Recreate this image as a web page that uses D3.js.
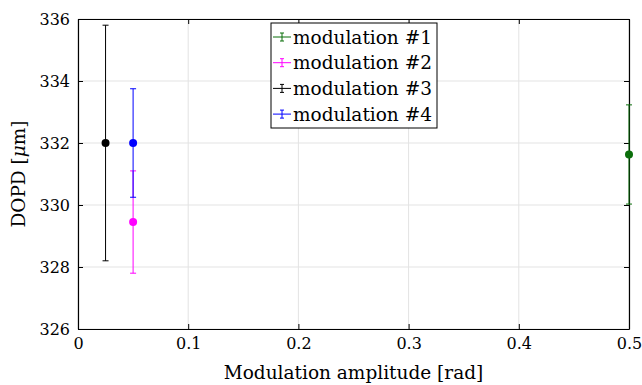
<script src="https://d3js.org/d3.v7.min.js"></script>
<style>
  body { margin: 0; background: #fff; }
  text { font-family: "DejaVu Serif", serif; fill: #000; }
</style>
<svg id="vis"></svg>
<script>
  // Data
  var seriesNames = ['modulation #1', 'modulation #2', 'modulation #3', 'modulation #4'];
  var seriesColors = ['#0b6e0b', '#ff00ff', '#000000', '#0000ff'];
  var xValues = [0.5, 0.05, 0.025, 0.05];
  var yValues = [331.63, 329.45, 332.0, 332.0];
  var yErrors = [1.6, 1.65, 3.8, 1.75];
  var xTicks = [0, 0.1, 0.2, 0.3, 0.4, 0.5];
  var yTicks = [326, 328, 330, 332, 334, 336];

  var width = 642, height = 385;
  var mLeft = 78, mRight = 629, mTop = 19, mBottom = 329;

  var svg = d3.select('#vis')
    .attr('width', width)
    .attr('height', height);

  var x = d3.scaleLinear().domain([0, 0.5]).range([mLeft, mRight]);
  var y = d3.scaleLinear().domain([326, 336]).range([mBottom, mTop]);

  // grid
  svg.append('g').selectAll('line').data(xTicks).enter().append('line')
    .attr('x1', d => x(d)).attr('x2', d => x(d))
    .attr('y1', mTop).attr('y2', mBottom)
    .attr('stroke', '#e3e3e3').attr('stroke-width', 1);
  svg.append('g').selectAll('line').data(yTicks).enter().append('line')
    .attr('x1', mLeft).attr('x2', mRight)
    .attr('y1', d => y(d)).attr('y2', d => y(d))
    .attr('stroke', '#e3e3e3').attr('stroke-width', 1);

  // axes (inward ticks on all four sides)
  var fmt = d3.format('~g');
  var gb = svg.append('g').attr('transform', 'translate(0,' + mBottom + ')')
    .call(d3.axisBottom(x).tickValues(xTicks).tickFormat(fmt).tickSizeInner(-5).tickSizeOuter(0).tickPadding(9));
  var gt = svg.append('g').attr('transform', 'translate(0,' + mTop + ')')
    .call(d3.axisTop(x).tickValues(xTicks).tickFormat('').tickSizeInner(-5).tickSizeOuter(0));
  var gl = svg.append('g').attr('transform', 'translate(' + mLeft + ',0)')
    .call(d3.axisLeft(y).tickValues(yTicks).tickFormat(fmt).tickSizeInner(-5).tickSizeOuter(0).tickPadding(8));
  var gr = svg.append('g').attr('transform', 'translate(' + mRight + ',0)')
    .call(d3.axisRight(y).tickValues(yTicks).tickFormat('').tickSizeInner(-5).tickSizeOuter(0));
  [gb, gt, gl, gr].forEach(function(g) {
    g.select('.domain').attr('stroke', '#000').attr('stroke-width', 1.2);
    g.selectAll('.tick line').attr('stroke', '#000');
    g.selectAll('.tick text').style('font-size', '16px').style('font-family', '"DejaVu Serif", serif').attr('fill', '#000');
  });

  // error bars
  var idx = d3.range(seriesNames.length);
  var bars = svg.append('g').selectAll('g').data(idx).enter().append('g');
  bars.append('line')
    .attr('x1', i => x(xValues[i])).attr('x2', i => x(xValues[i]))
    .attr('y1', i => y(yValues[i] - yErrors[i])).attr('y2', i => y(yValues[i] + yErrors[i]))
    .attr('stroke', i => seriesColors[i]).attr('stroke-width', 1);
  [-1, 1].forEach(function(s) {
    bars.append('line')
      .attr('x1', i => x(xValues[i]) - 3).attr('x2', i => x(xValues[i]) + 3)
      .attr('y1', i => y(yValues[i] + s * yErrors[i])).attr('y2', i => y(yValues[i] + s * yErrors[i]))
      .attr('stroke', i => seriesColors[i]).attr('stroke-width', 1);
  });
  bars.append('circle')
    .attr('cx', i => x(xValues[i])).attr('cy', i => y(yValues[i]))
    .attr('r', 4).attr('fill', i => seriesColors[i]);

  // axis labels
  svg.append('text')
    .attr('x', (mLeft + mRight) / 2).attr('y', 379)
    .attr('text-anchor', 'middle').style('font-size', '18.5px')
    .text('Modulation amplitude [rad]');
  var yl = svg.append('text')
    .attr('transform', 'translate(25,' + ((mTop + mBottom) / 2) + ') rotate(-90)')
    .attr('text-anchor', 'middle').style('font-size', '18.5px');
  yl.append('tspan').text('DOPD [');
  yl.append('tspan').style('font-style', 'italic').text('\u03bc');
  yl.append('tspan').text('m]');

  // legend
  var lg = svg.append('g');
  lg.append('rect').attr('x', 271).attr('y', 23).attr('width', 166).attr('height', 105)
    .attr('fill', '#fff').attr('stroke', '#000').attr('stroke-width', 1);
  var items = lg.selectAll('g.item').data(idx).enter().append('g')
    .attr('transform', i => 'translate(273,' + (37 + i * 25.7) + ')');
  items.append('line').attr('x1', 0).attr('x2', 18).attr('y1', 0).attr('y2', 0)
    .attr('stroke', i => seriesColors[i]);
  items.append('line').attr('x1', 9).attr('x2', 9).attr('y1', -4).attr('y2', 4)
    .attr('stroke', i => seriesColors[i]);
  items.append('line').attr('x1', 7).attr('x2', 11).attr('y1', -4).attr('y2', -4)
    .attr('stroke', i => seriesColors[i]);
  items.append('line').attr('x1', 7).attr('x2', 11).attr('y1', 4).attr('y2', 4)
    .attr('stroke', i => seriesColors[i]);
  items.append('text').attr('x', 20).attr('y', 6.5)
    .style('font-size', '18.5px')
    .text(i => seriesNames[i]);
</script>
